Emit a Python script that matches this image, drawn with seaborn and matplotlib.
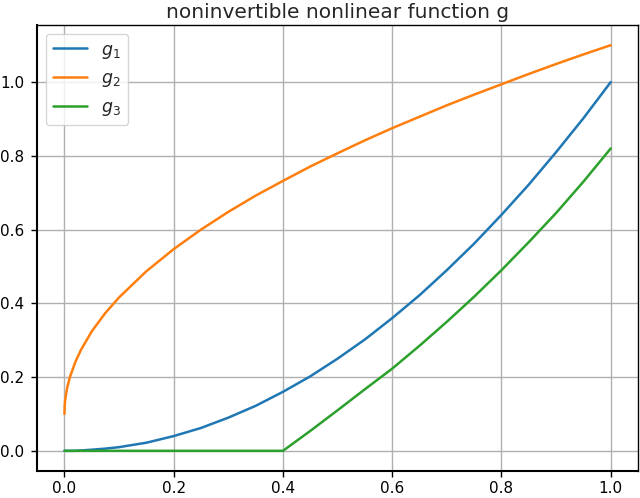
"""Recreate the noninvertible nonlinear function g chart."""
import matplotlib
matplotlib.use("Agg")
import matplotlib.pyplot as plt
import pandas as pd
import seaborn as sns

X = [0, 0.0005, 0.001, 0.002, 0.005, 0.01, 0.02, 0.03, 0.05, 0.075, 0.1, 0.15,
     0.2, 0.25, 0.3, 0.35, 0.4, 0.45, 0.5, 0.55, 0.6, 0.65, 0.7, 0.75, 0.8,
     0.85, 0.9, 0.95, 1.0]
G1 = [0, 0, 0, 0, 0, 0, 0, 0.001, 0.003, 0.006, 0.01, 0.022, 0.04, 0.062,
      0.09, 0.122, 0.16, 0.202, 0.25, 0.302, 0.36, 0.422, 0.49, 0.562, 0.64,
      0.722, 0.81, 0.902, 1.0]
G2 = [0.10, 0.122, 0.132, 0.145, 0.171, 0.20, 0.241, 0.273, 0.324, 0.374,
      0.416, 0.487, 0.547, 0.60, 0.648, 0.692, 0.732, 0.771, 0.807, 0.842,
      0.875, 0.906, 0.937, 0.966, 0.994, 1.022, 1.049, 1.075, 1.10]
G3 = [0, 0, 0, 0, 0, 0, 0, 0, 0, 0, 0, 0, 0, 0, 0, 0, 0, 0.054, 0.11, 0.167,
      0.223, 0.285, 0.35, 0.418, 0.49, 0.566, 0.645, 0.73, 0.82]
LABELS = ["$g_1$", "$g_2$", "$g_3$"]
TITLE = "noninvertible nonlinear function g"

sns.set_theme(style="ticks")
plt.rcParams["font.family"] = ["DejaVu Sans"]

fig, ax = plt.subplots(figsize=(6.4, 4.98), dpi=100)
fig.subplots_adjust(left=0.058, right=0.997, top=0.95, bottom=0.054)

colors = sns.color_palette("tab10", 3)
for ys, lab, c in zip([G1, G2, G3], LABELS, colors):
    df = pd.DataFrame({"x": X, "y": ys})
    sns.lineplot(data=df, x="x", y="y", ax=ax, color=c, label=lab,
                 linewidth=1.8, sort=False)

ax.set_xlabel("")
ax.set_ylabel("")
ax.set_title(TITLE, fontsize=14.5, pad=5)
ax.set_xticks([0, 0.2, 0.4, 0.6, 0.8, 1.0])
ax.set_yticks([0, 0.2, 0.4, 0.6, 0.8, 1.0])
ax.tick_params(labelsize=11, colors="black", length=4.3, width=1)
ax.tick_params(axis="y", pad=5)
ax.tick_params(axis="x", pad=2.5)
ax.grid(True, color="#b0b0b0", linewidth=1)
for s in ax.spines.values():
    s.set_color("black")
    s.set_linewidth(1)
ax.spines["left"].set_linewidth(1.5)
ax.spines["bottom"].set_linewidth(1.5)
ax.legend(loc="upper left", fontsize=12.5, frameon=True)

fig.savefig("out.png", dpi=100)
